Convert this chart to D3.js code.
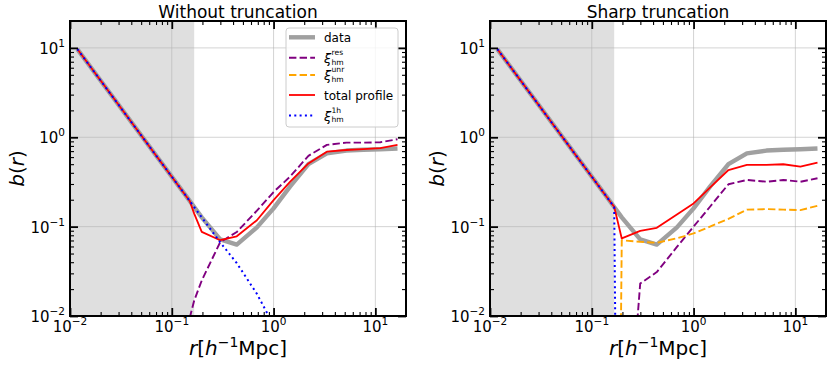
<!DOCTYPE html>
<html>
<head>
<meta charset="utf-8">
<script src="https://cdn.jsdelivr.net/npm/d3@7"></script>
<style>
  body { margin: 0; background: #fff; }
  svg { font-family: "DejaVu Sans", sans-serif; }
</style>
</head>
<body>
<div id="chart"></div>
<script>
// radii (h^-1 Mpc), shared by every curve
const r = [0.0118, 0.15, 0.166, 0.197, 0.299, 0.435, 0.686, 1.0, 1.45, 2.2, 3.34, 5.2, 7.6, 11.2, 16.5];

// measured bias profile
const dataB = [9.7, 0.194, 0.1656, 0.127, 0.072, 0.063, 0.098, 0.16, 0.28, 0.5, 0.66, 0.71, 0.725, 0.735, 0.75];

// without truncation
const noTruncRes = [null, 0.0095, 0.0149, 0.025, 0.067, 0.087, 0.151, 0.244, 0.362, 0.62, 0.822, 0.87, 0.87, 0.88, 0.95];
const noTruncTotal = [9.7, 0.194, 0.14, 0.0875, 0.0705, 0.078, 0.118, 0.198, 0.317, 0.51, 0.69, 0.72, 0.737, 0.755, 0.82];
const noTruncOneHalo = [9.7, 0.194, 0.1656, 0.127, 0.0668, 0.039, 0.0177, 0.0079, null, null, null, null, null, null, null];

// sharp truncation
const sharpRes = [null, null, null, 5e-5, 0.0231, 0.031, 0.0593, 0.1, 0.167, 0.298, 0.333, 0.318, 0.333, 0.318, 0.348];
const sharpUnr = [null, null, 1e-10, 0.0705, 0.0676, 0.066, 0.074, 0.084, 0.1, 0.122, 0.155, 0.157, 0.155, 0.153, 0.171];
const sharpTotal = [9.7, 0.194, 0.1667, 0.0738, 0.0897, 0.097, 0.137, 0.182, 0.273, 0.43, 0.49, 0.49, 0.499, 0.469, 0.52];
const sharpOneHalo = [9.7, 0.194, 0.1656, 1e-10, null, null, null, null, null, null, null, null, null, null, null];

const majorTicks = [0.01, 0.1, 1, 10];
const tickExp = ["\u22122", "\u22121", "0", "1"];
const shadeEdge = 0.166;

const styles = {
  data: {color: "#a0a0a0", width: 4.4, dash: null},
  res: {color: "purple", width: 1.9, dash: "7.4,3.2"},
  unr: {color: "orange", width: 1.9, dash: "7.4,3.2"},
  total: {color: "red", width: 1.8, dash: null},
  oneHalo: {color: "blue", width: 2, dash: "2,3.3"}
};

const panels = [
  {left: 70, title: "Without truncation", ylabX: 24, legend: true,
   series: [["data", dataB], ["res", noTruncRes], ["total", noTruncTotal], ["oneHalo", noTruncOneHalo]]},
  {left: 490, title: "Sharp truncation", ylabX: 444, legend: false,
   series: [["data", dataB], ["res", sharpRes], ["unr", sharpUnr], ["total", sharpTotal], ["oneHalo", sharpOneHalo]]}
];

const width = 830, height = 368;
const marginTop = 21, pw = 336, ph = 295;

const svg = d3.select("#chart").append("svg")
  .attr("width", width)
  .attr("height", height);

const minorTicks = [];
majorTicks.forEach(m => {
  for (let k = 2; k <= 9; k++) {
    if (m * k < 20) minorTicks.push(m * k);
  }
});

panels.forEach((p, i) => {
  const x = d3.scaleLog().domain([0.01, 20]).range([0, pw]);
  const y = d3.scaleLog().domain([0.01, 20]).range([ph, 0]);

  const g = svg.append("g").attr("transform", `translate(${p.left},${marginTop})`);

  g.append("clipPath").attr("id", "clip" + i)
    .append("rect").attr("width", pw).attr("height", ph);

  // shaded small-scale region
  g.append("rect")
    .attr("x", x(0.01)).attr("y", 0)
    .attr("width", x(shadeEdge) - x(0.01)).attr("height", ph)
    .attr("fill", "gray").attr("fill-opacity", 0.25);

  // grid
  g.selectAll(".gx").data(majorTicks).join("line")
    .attr("x1", d => x(d)).attr("x2", d => x(d)).attr("y1", 0).attr("y2", ph)
    .attr("stroke", "#b0b0b0").attr("stroke-opacity", 0.55).attr("stroke-width", 1);
  g.selectAll(".gy").data(majorTicks).join("line")
    .attr("y1", d => y(d)).attr("y2", d => y(d)).attr("x1", 0).attr("x2", pw)
    .attr("stroke", "#b0b0b0").attr("stroke-opacity", 0.55).attr("stroke-width", 1);

  // curves
  const plot = g.append("g").attr("clip-path", `url(#clip${i})`);
  p.series.forEach(([key, vals]) => {
    const s = styles[key];
    const pts = r.map((rv, j) => ({r: rv, v: vals[j]}));
    const line = d3.line()
      .defined(d => d.v != null)
      .x(d => x(d.r))
      .y(d => y(d.v));
    plot.append("path")
      .attr("d", line(pts))
      .attr("fill", "none")
      .attr("stroke", s.color)
      .attr("stroke-width", s.width)
      .attr("stroke-dasharray", s.dash)
      .attr("stroke-linejoin", "round");
  });

  // inward ticks on all four sides
  const tickSets = [[majorTicks, 8, 1.8], [minorTicks, 4, 1.1]];
  tickSets.forEach(([vals, len, sw]) => {
    const axes = [
      [d3.axisBottom(x), `translate(0,${ph})`],
      [d3.axisTop(x), "translate(0,0)"],
      [d3.axisLeft(y), "translate(0,0)"],
      [d3.axisRight(y), `translate(${pw},0)`]
    ];
    axes.forEach(([ax, tr]) => {
      const a = g.append("g").attr("transform", tr)
        .call(ax.tickValues(vals.filter(v => v >= 0.01 && v < 20)).tickSize(-len).tickFormat(""));
      a.select(".domain").remove();
      a.selectAll(".tick line").attr("stroke", "#000").attr("stroke-width", sw);
    });
  });

  // frame
  g.append("rect")
    .attr("width", pw).attr("height", ph)
    .attr("fill", "none").attr("stroke", "#000").attr("stroke-width", 2);

  // tick labels
  g.selectAll(".xl").data(majorTicks).join("text")
    .attr("x", d => x(d)).attr("y", ph + 16)
    .attr("text-anchor", "middle").attr("font-size", 15)
    .each(function(d, j) {
      const t = d3.select(this);
      t.append("tspan").text("10");
      t.append("tspan").attr("dy", -7).attr("font-size", 10.5).text(tickExp[j]);
    });
  g.selectAll(".yl").data(majorTicks).join("text")
    .attr("x", -5).attr("y", d => y(d) + 6)
    .attr("text-anchor", "end").attr("font-size", 15)
    .each(function(d, j) {
      const t = d3.select(this);
      t.append("tspan").text("10");
      t.append("tspan").attr("dy", -7).attr("font-size", 10.5).text(tickExp[j]);
    });

  // title
  g.append("text")
    .attr("x", pw / 2).attr("y", -3)
    .attr("text-anchor", "middle").attr("font-size", 17)
    .text(p.title);

  // x label
  const xl = g.append("text")
    .attr("x", pw / 2).attr("y", ph + 39)
    .attr("text-anchor", "middle").attr("font-size", 20);
  xl.append("tspan").attr("font-style", "italic").text("r");
  xl.append("tspan").text("[");
  xl.append("tspan").attr("font-style", "italic").text("h");
  xl.append("tspan").attr("dy", -8).attr("font-size", 14).text("\u22121");
  xl.append("tspan").attr("dy", 8).text("Mpc]");

  // y label
  const yl = svg.append("text")
    .attr("transform", `translate(${p.ylabX},${marginTop + ph / 2}) rotate(-90)`)
    .attr("text-anchor", "middle").attr("font-size", 20);
  yl.append("tspan").attr("font-style", "italic").text("b");
  yl.append("tspan").text("(");
  yl.append("tspan").attr("font-style", "italic").text("r");
  yl.append("tspan").text(")");

  if (p.legend) {
    const lg = svg.append("g").attr("transform", "translate(286,28)");
    lg.append("rect")
      .attr("width", 112).attr("height", 99).attr("rx", 3)
      .attr("fill", "#fff").attr("fill-opacity", 0.8)
      .attr("stroke", "#cccccc").attr("stroke-width", 1);
    const entries = [
      ["data", "data", null, null, 9.3],
      ["res", "\u03be", "hm", "res", 29.7],
      ["unr", "\u03be", "hm", "unr", 47],
      ["total", "total profile", null, null, 67],
      ["oneHalo", "\u03be", "hm", "1h", 87.5]
    ];
    entries.forEach(([key, label, sub, sup, yy]) => {
      const s = styles[key];
      lg.append("line")
        .attr("x1", 3).attr("x2", 29).attr("y1", yy).attr("y2", yy)
        .attr("stroke", s.color).attr("stroke-width", s.width)
        .attr("stroke-dasharray", s.dash);
      if (sub) {
        lg.append("text").attr("x", 38).attr("y", yy + 5)
          .attr("font-size", 13).attr("font-style", "italic").text(label);
        lg.append("text").attr("x", 45.5).attr("y", yy + 6.8)
          .attr("font-size", 7.6).text(sub);
        lg.append("text").attr("x", 45.5).attr("y", yy - 2.8)
          .attr("font-size", 7.6).text(sup);
      } else {
        lg.append("text").attr("x", 38).attr("y", yy + 4.5)
          .attr("font-size", 12).text(label);
      }
    });
  }
});
</script>
</body>
</html>
